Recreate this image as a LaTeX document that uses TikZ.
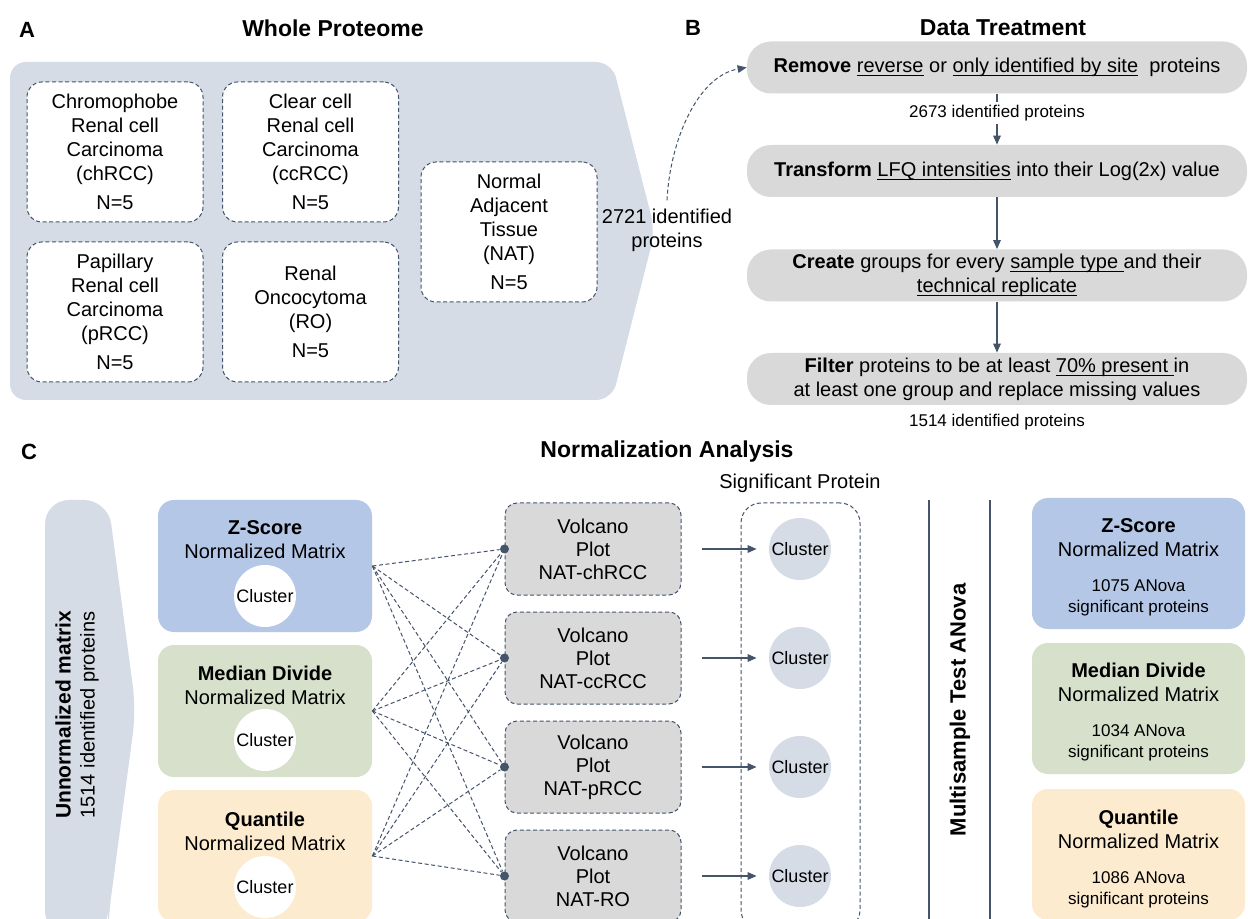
\documentclass[tikz,border=0pt]{standalone}
\usepackage{fontspec}
\setmainfont{Liberation Sans}
\usetikzlibrary{arrows.meta}
\definecolor{slate}{HTML}{44546A}
\definecolor{bgA}{HTML}{D6DCE5}
\definecolor{boxgray}{HTML}{D9D9D9}
\definecolor{zblue}{HTML}{B4C7E7}
\definecolor{mgreen}{HTML}{D6E0CB}
\definecolor{qorange}{HTML}{FCEBCF}
\newcommand\myul[1]{\setbox0\hbox{#1}\rlap{\rule[-1.8pt]{\wd0}{0.45pt}}\box0\relax}
\tikzset{
  lbl/.style={font=\bfseries\fontsize{11}{13}\selectfont, inner sep=0pt},
  ttl/.style={font=\bfseries\fontsize{11.5}{14}\selectfont, inner sep=0pt},
  txt/.style={font=\fontsize{10}{12}\selectfont, inner sep=0pt, align=center},
  small/.style={font=\fontsize{8.5}{10.5}\selectfont, inner sep=0pt, align=center},
  dsh/.style={dash pattern=on 2pt off 1.3pt, line width=0.5pt},
  sample/.style={draw=slate, dsh, fill=white, rounded corners=7.5pt, minimum width=88pt, minimum height=70pt, align=center, font=\fontsize{10}{12}\selectfont, inner sep=0pt},
  stepbox/.style={fill=boxgray, rounded corners=12pt, minimum width=250pt, minimum height=26pt, align=center, inner sep=0pt, font=\fontsize{10}{12}\selectfont},
  arr/.style={draw=slate, line width=0.6pt, -{Triangle[length=4.5pt,width=3.8pt]}},
  normbox/.style={rounded corners=8pt, minimum width=107pt, minimum height=66pt, inner sep=0pt},
  rbox/.style={rounded corners=8pt, minimum width=106.5pt, minimum height=65.5pt, inner sep=0pt},
  wclust/.style={circle, fill=white, minimum size=31pt, inner sep=0pt, font=\fontsize{9}{11}\selectfont},
  gclust/.style={circle, fill=bgA, minimum size=31pt, inner sep=0pt, font=\fontsize{9}{11}\selectfont},
  volc/.style={draw=slate, dsh, fill=boxgray, rounded corners=6pt, minimum width=88pt, minimum height=46pt, align=center, font=\fontsize{10}{11.5}\selectfont, inner sep=0pt},
  sigbox/.style={draw=slate, dsh, rounded corners=10pt, minimum width=59.5pt, minimum height=213.5pt, inner sep=0pt},
  dot/.style={circle, fill=slate, minimum size=4.5pt, inner sep=0pt},
  dline/.style={draw=slate, dsh},
  vline/.style={draw=slate, line width=1pt},
}
\begin{document}
\begin{tikzpicture}[x=0.5pt,y=-0.5pt]
\useasboundingbox (0,0) rectangle (1248,919);
\clip (0,0) rectangle (1248,919);
\fill[white] (0,0) rectangle (1248,919);

% ---------------- Panel A
\node[lbl] (la) at (27,30) {A};
\node[ttl] (ta) at (333,28) {Whole Proteome};
\fill[bgA, rounded corners=8pt] (10,62) -- (612,62) -- (655,231) -- (612,400) -- (10,400) -- cycle;
\node[sample] (chrcc) at (115,152) {Chromophobe\\Renal cell\\Carcinoma\\(chRCC)\\[2.5pt]N=5};
\node[sample] (ccrcc) at (310.5,152) {Clear cell\\Renal cell\\Carcinoma\\(ccRCC)\\[2.5pt]N=5};
\node[sample] (prcc) at (115,312) {Papillary\\Renal cell\\Carcinoma\\(pRCC)\\[2.5pt]N=5};
\node[sample] (ro) at (310.5,312) {Renal\\Oncocytoma\\(RO)\\[2.5pt]N=5};
\node[sample] (nat) at (509,232) {Normal\\Adjacent\\Tissue\\(NAT)\\[2.5pt]N=5};
\node[txt] (n2721) at (667,230) {2721 identified\\proteins};

% ---------------- Panel B
\node[lbl] (lb) at (693,28) {B};
\node[ttl] (tb) at (1003,28) {Data Treatment};
\node[stepbox] (b1) at (997,67.5) {\textbf{Remove} \myul{reverse} or \myul{only identified by site}\ \ proteins};
\node[stepbox] (b2) at (997,171) {\textbf{Transform} \myul{LFQ intensities} into their Log(2x) value};
\node[stepbox] (b3) at (997,275.5) {\textbf{Create} groups for every \myul{sample type\ }and their\\\myul{technical replicate}};
\node[stepbox] (b4) at (997,379) {\textbf{Filter} proteins to be at least \myul{70\% present\ }in\\at least one group and replace missing values};
\draw[arr] (b1) -- (b2);
\node[small, fill=white, inner sep=1.5pt] (p2673) at (997,113) {2673 identified proteins};
\draw[arr] (b2) -- (b3);
\draw[arr] (b3) -- (b4);
\node[small] (p1514) at (997,422) {1514 identified proteins};
\draw[dline, -{Triangle[length=4.5pt,width=3.8pt]}] ([yshift=4pt]n2721.north) .. controls (670,140) and (698,76) .. (b1.west);

% ---------------- Panel C
\node[lbl] (lc) at (29,452) {C};
\node[ttl] (tc) at (667,452) {Normalization Analysis};
\fill[bgA, rounded corners=12pt] (45,935) -- (45,500) -- (108,500) -- (136,710) -- (108,920) -- (108,935) -- cycle;
\node[txt, rotate=90] (unnorm) at (77,715) {{\bfseries\fontsize{10.5}{12}\selectfont Unnormalized matrix}\\1514 identified proteins};

\node[normbox, fill=zblue] (zs) at (265,566) {};
\node[txt] (zst) at (265,540) {\textbf{Z-Score}\\Normalized Matrix};
\node[wclust] (zc) at (265,596) {Cluster};
\node[normbox, fill=mgreen] (md) at (265,711) {};
\node[txt] (mdt) at (265,685) {\textbf{Median Divide}\\Normalized Matrix};
\node[wclust] (mc) at (265,740) {Cluster};
\node[normbox, fill=qorange] (qt) at (265,856) {};
\node[txt] (qtt) at (265,831) {\textbf{Quantile}\\Normalized Matrix};
\node[wclust] (qc) at (265,887) {Cluster};

\node[volc] (v1) at (593,549) {Volcano\\Plot\\NAT-chRCC};
\node[volc] (v2) at (593,658) {Volcano\\Plot\\NAT-ccRCC};
\node[volc] (v3) at (593,767) {Volcano\\Plot\\NAT-pRCC};
\node[volc] (v4) at (593,876) {Volcano\\Plot\\NAT-RO};
\foreach \v in {1,2,3,4} {\node[dot] (d\v) at (v\v.west) {};}
\foreach \s in {zs,md,qt} {\foreach \v in {1,2,3,4} {\draw[dline] (\s.east) -- (d\v);}}

\node[txt] (sigl) at (800,483) {Significant Protein};
\node[sigbox] (sig) at (800.5,716.5) {};
\foreach \v/\y in {1/549,2/658,3/767,4/876} {
  \node[gclust] (c\v) at (800,\y) {Cluster};
  \draw[arr, shorten <=10pt, shorten >=6pt] (v\v) -- (c\v);
}

\coordinate (l1t) at (929,500); \coordinate (l1b) at (929,930);
\coordinate (l2t) at (990,500); \coordinate (l2b) at (990,930);
\draw[vline] (l1t) -- (l1b);
\draw[vline] (l2t) -- (l2b);
\node[ttl, rotate=90, font=\bfseries\fontsize{11}{13}\selectfont] (msa) at (960,710) {Multisample Test ANova};

\node[rbox, fill=zblue] (rz) at (1138.5,563.5) {};
\node[txt] (rzt) at (1138.5,538) {\textbf{Z-Score}\\Normalized Matrix};
\node[small] (rzn) at (1138.5,598) {1075 ANova\\significant proteins};
\node[rbox, fill=mgreen] (rm) at (1138.5,708.5) {};
\node[txt] (rmt) at (1138.5,682.5) {\textbf{Median Divide}\\Normalized Matrix};
\node[small] (rmn) at (1138.5,743) {1034 ANova\\significant proteins};
\node[rbox, fill=qorange] (rq) at (1138.5,854.5) {};
\node[txt] (rqt) at (1138.5,829) {\textbf{Quantile}\\Normalized Matrix};
\node[small] (rqn) at (1138.5,889.5) {1086 ANova\\significant proteins};
\end{tikzpicture}
\end{document}
